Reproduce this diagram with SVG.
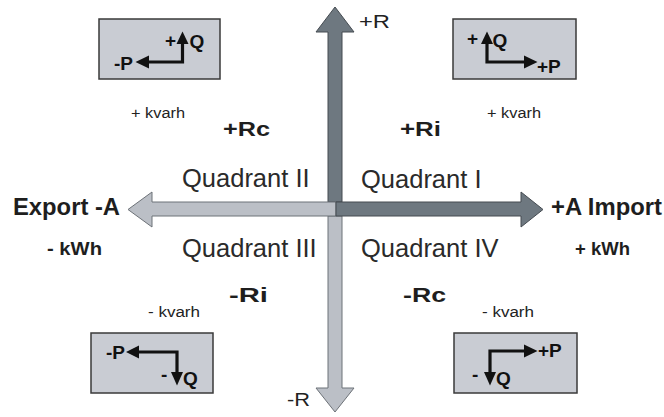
<svg xmlns="http://www.w3.org/2000/svg" width="664" height="417" viewBox="0 0 664 417">
<style>
.box{fill:#c9ccd3;stroke:#3a3a3a;stroke-width:1.5}
.ln{stroke:#111;stroke-width:3.2;fill:none}
.hd{fill:#111}
.ic{font-family:"Liberation Sans",Arial,sans-serif;font-weight:bold;font-size:19px;fill:#111}
.q{font-family:"Liberation Sans",Arial,sans-serif;font-size:25.5px;fill:#2a2a2a}
.b{font-family:"Liberation Sans",Arial,sans-serif;font-weight:bold;fill:#1e1e1e}
.s{font-family:"Liberation Sans",Arial,sans-serif;font-size:14px;fill:#222}
.r{font-family:"Liberation Sans",Arial,sans-serif;font-size:18px;fill:#222}
.dk{fill:#6e7880;stroke:#454b51;stroke-width:1}
.lt{fill:#bbbfc6;stroke:#6d7278;stroke-width:1}
</style>
<rect width="664" height="417" fill="#fff"/>
<g id="connectors">
<polygon class="dk" points="328,202 328,32 316,32 335,7 354,32 342,32 342,202"/>
<polygon class="lt" points="328,216 328,388 316,388 335,412 354,388 342,388 342,216"/>
<polygon class="lt" points="336,202 152,202 152,192 128,209.5 152,227 152,216 336,216"/>
<polygon class="dk" points="336,202 521,202 521,192 543,209.5 521,227 521,216 336,216"/>
</g>
<g id="icon-q2">
<rect class="box" x="99" y="19" width="121" height="60"/>
<path class="ln" d="M182.5,43 V62 H148"/>
<polygon class="hd" points="176.5,44 182.5,31.5 188.5,44"/>
<polygon class="hd" points="149,55.5 135.5,62 149,68.5"/>
<text class="ic" x="165" y="47">+</text>
<text class="ic" x="189.5" y="48">Q</text>
<text class="ic" x="114" y="70">-P</text>
</g>
<g id="icon-q1">
<rect class="box" x="453" y="19" width="123" height="60"/>
<path class="ln" d="M487,43 V62 H525"/>
<polygon class="hd" points="481,44 487,31.5 493,44"/>
<polygon class="hd" points="524,55.5 537.5,62 524,68.5"/>
<text class="ic" x="467" y="45">+</text>
<text class="ic" x="492.5" y="47">Q</text>
<text class="ic" x="537" y="73">+P</text>
</g>
<g id="icon-q3">
<rect class="box" x="91" y="333" width="122" height="60"/>
<path class="ln" d="M138,352 H177 V373"/>
<polygon class="hd" points="139,345.5 126,352 139,358.5"/>
<polygon class="hd" points="171,372 177,385.5 183,372"/>
<text class="ic" x="106" y="359">-P</text>
<text class="ic" x="161" y="381">-</text>
<text class="ic" x="183" y="385">Q</text>
</g>
<g id="icon-q4">
<rect class="box" x="454" y="333" width="123" height="60"/>
<path class="ln" d="M525,351 H490 V373"/>
<polygon class="hd" points="524,344.5 537.5,351 524,357.5"/>
<polygon class="hd" points="484,372 490,385.5 496,372"/>
<text class="ic" x="538" y="357">+P</text>
<text class="ic" x="472" y="381">-</text>
<text class="ic" x="496" y="385">Q</text>
</g>
<g id="axis-labels">
<text class="r" x="359" y="28" textLength="31" lengthAdjust="spacingAndGlyphs">+R</text>
<text class="r" x="287" y="406" textLength="23" lengthAdjust="spacingAndGlyphs">-R</text>
<text class="b" x="13" y="215" font-size="24" textLength="107" lengthAdjust="spacingAndGlyphs">Export -A</text>
<text class="b" x="551" y="215" font-size="24" textLength="111" lengthAdjust="spacingAndGlyphs">+A Import</text>
<text class="b" x="47" y="255" font-size="18" textLength="55" lengthAdjust="spacingAndGlyphs">- kWh</text>
<text class="b" x="575" y="255" font-size="18" textLength="55" lengthAdjust="spacingAndGlyphs">+ kWh</text>
</g>
<g id="quadrant-2">
<text class="q" x="182" y="187">Quadrant II</text>
<text class="b" x="223" y="136" font-size="21" textLength="47" lengthAdjust="spacingAndGlyphs">+Rc</text>
<text class="s" x="131" y="118" textLength="54" lengthAdjust="spacingAndGlyphs">+ kvarh</text>
</g>
<g id="quadrant-1">
<text class="q" x="361" y="188">Quadrant I</text>
<text class="b" x="400" y="136" font-size="21" textLength="41" lengthAdjust="spacingAndGlyphs">+Ri</text>
<text class="s" x="487" y="118" textLength="54" lengthAdjust="spacingAndGlyphs">+ kvarh</text>
</g>
<g id="quadrant-3">
<text class="q" x="182" y="257">Quadrant III</text>
<text class="b" x="229" y="302" font-size="21" textLength="39" lengthAdjust="spacingAndGlyphs">-Ri</text>
<text class="s" x="148" y="317" textLength="52" lengthAdjust="spacingAndGlyphs">- kvarh</text>
</g>
<g id="quadrant-4">
<text class="q" x="361" y="257">Quadrant IV</text>
<text class="b" x="403" y="302" font-size="21" textLength="43" lengthAdjust="spacingAndGlyphs">-Rc</text>
<text class="s" x="482" y="317" textLength="52" lengthAdjust="spacingAndGlyphs">- kvarh</text>
</g>
</svg>
